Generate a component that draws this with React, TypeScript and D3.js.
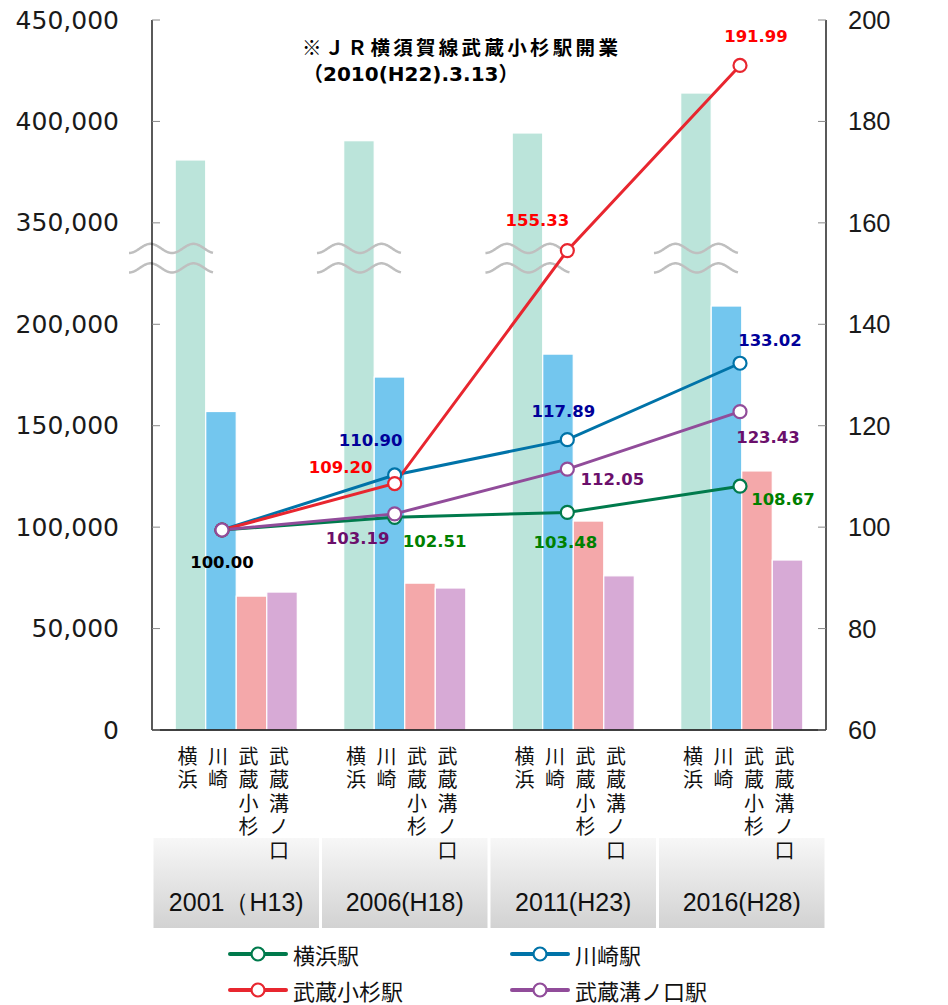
import * as d3 from "d3";
import React, { useEffect, useRef } from "react";

// 年次と駅名
const years = ["2001（H13)", "2006(H18)", "2011(H23)", "2016(H28)"];
const stations = ["横浜", "川崎", "武蔵小杉", "武蔵溝ノ口"];
const legendNames = ["横浜駅", "川崎駅", "武蔵小杉駅", "武蔵溝ノ口駅"];

// 乗車人員（人/日）- 左軸
const yokohamaRiders = [381000, 390500, 394300, 414000];
const kawasakiRiders = [157000, 174000, 185300, 209000];
const kosugiRiders = [66000, 72400, 103000, 127700];
const mizonokuchiRiders = [68000, 70000, 76000, 83800];

// 2001年を100とした指数 - 右軸
const yokohamaIndex = [100.0, 102.51, 103.48, 108.67];
const kawasakiIndex = [100.0, 110.9, 117.89, 133.02];
const kosugiIndex = [100.0, 109.2, 155.33, 191.99];
const mizonokuchiIndex = [100.0, 103.19, 112.05, 123.43];

// 軸の目盛り
const leftTicks = [0, 50000, 100000, 150000, 200000, 350000, 400000, 450000];
const rightTicks = [60, 80, 100, 120, 140, 160, 180, 200];

const barColors = ["#bbe4da", "#73c6ee", "#f4a8aa", "#d7aad6"];
const lineColors = ["#007a4c", "#0073a8", "#e8262f", "#914c9a"];
const labelColors = ["#008000", "#000099", "#ff0000", "#6b0f6b"];

// ラベルの位置調整（点からのずれ）
const labelOffsets = [
  [null, [40, 24], [-2, 30], [43, 13]],
  [null, [-24, -34], [-4, -28], [30, -23]],
  [null, [-54, -16], [-30, -30], [16, -29]],
  [null, [-37, 25], [45, 10], [28, 26]],
];

const App = () => {
  const ref = useRef(null);

  useEffect(() => {
    document.body.style.margin = "0";
    const width = 948;
    const height = 1005;
    const left = 152;
    const right = 826;
    const top = 20;
    const bottom = 730;

    d3.select(ref.current).selectAll("*").remove();
    const svg = d3
      .select(ref.current)
      .append("svg")
      .attr("width", width)
      .attr("height", height)
      .style("display", "block");

    const riders = [yokohamaRiders, kawasakiRiders, kosugiRiders, mizonokuchiRiders];
    const indexes = [yokohamaIndex, kawasakiIndex, kosugiIndex, mizonokuchiIndex];

    // x軸スケール
    const x0 = d3.scaleBand().domain(years).range([left, right]);
    const x1 = d3
      .scaleBand()
      .domain(stations)
      .range([0, x0.bandwidth()])
      .paddingOuter(0.76);
    const xLine = d3.scalePoint().domain(years).range([222, 740]);

    // 左軸（途中省略あり）
    const unit = (bottom - top) / 7;
    const yBreak = bottom - 4.6 * unit;
    const yL = d3
      .scaleLinear()
      .domain([0, 230000, 330000, 450000])
      .range([bottom, yBreak, yBreak, top]);
    const yR = d3.scaleLinear().domain([60, 200]).range([bottom, top]);
    const yLine = d3.scaleLinear().domain([60, 200]).range([732, 25]);

    // カテゴリ背景（グラデーション）
    const grad = svg
      .append("defs")
      .append("linearGradient")
      .attr("id", "band")
      .attr("x1", 0)
      .attr("y1", 0)
      .attr("x2", 0)
      .attr("y2", 1);
    grad.append("stop").attr("offset", "0%").attr("stop-color", "#f7f7f7");
    grad.append("stop").attr("offset", "100%").attr("stop-color", "#d2d2d2");

    svg
      .selectAll(".band")
      .data(years)
      .enter()
      .append("rect")
      .attr("x", (d) => x0(d) + 1.5)
      .attr("y", 838)
      .attr("width", x0.bandwidth() - 3)
      .attr("height", 90)
      .attr("fill", "url(#band)");

    // 棒グラフ
    stations.forEach((s, si) => {
      svg
        .selectAll(".bar-" + si)
        .data(riders[si])
        .enter()
        .append("rect")
        .attr("x", (d, i) => x0(years[i]) + x1(s))
        .attr("y", (d) => yL(d))
        .attr("width", x1.bandwidth())
        .attr("height", (d) => bottom - yL(d))
        .attr("fill", barColors[si])
        .attr("stroke", "#fff")
        .attr("stroke-width", 1.2);
    });

    // 省略記号（波線）
    const wave = (x0w, yc) => {
      const pts = d3.range(0, 85, 1).map((t) => [
        x0w + t,
        yc + 4.6 * Math.cos((2 * Math.PI * t) / 43),
      ]);
      return d3.line()(pts);
    };
    years.forEach((yr, i) => {
      const cx = x0(yr) + x1(stations[0]) + x1.bandwidth() / 2;
      const startX = i === 0 ? left - 23 : cx - 42;
      [yBreak - 15, yBreak + 4.5].forEach((yc) => {
        svg
          .append("path")
          .attr("d", wave(startX, yc))
          .attr("fill", "none")
          .attr("stroke", "#bfbfbf")
          .attr("stroke-width", 2.5);
      });
    });

    // 軸線
    const axisLine = (x1a, y1a, x2a, y2a) =>
      svg
        .append("line")
        .attr("x1", x1a)
        .attr("y1", y1a)
        .attr("x2", x2a)
        .attr("y2", y2a)
        .attr("stroke", "#000")
        .attr("stroke-width", 1.3);
    axisLine(left, top, left, bottom);
    axisLine(right, top, right, bottom);
    axisLine(left, bottom, right, bottom);

    // 左軸の目盛り
    leftTicks.forEach((t) => {
      svg
        .append("line")
        .attr("x1", left)
        .attr("x2", left + 8)
        .attr("y1", yL(t))
        .attr("y2", yL(t))
        .attr("stroke", "#888");
      svg
        .append("text")
        .attr("x", 119)
        .attr("y", yL(t))
        .attr("text-anchor", "end")
        .attr("dominant-baseline", "central")
        .attr("font-family", "DejaVu Sans")
        .attr("font-size", 25)
        .attr("fill", "#1a1a1a")
        .text(d3.format(",")(t));
    });

    // 右軸の目盛り
    rightTicks.forEach((t) => {
      svg
        .append("line")
        .attr("x1", right - 8)
        .attr("x2", right)
        .attr("y1", yR(t))
        .attr("y2", yR(t))
        .attr("stroke", "#888");
      svg
        .append("text")
        .attr("x", 848)
        .attr("y", yR(t))
        .attr("dominant-baseline", "central")
        .attr("font-family", "Liberation Sans, Arial")
        .attr("font-size", 25.5)
        .attr("fill", "#1a1a1a")
        .text(t);
    });

    // カテゴリラベル（縦書き）
    years.forEach((yr) => {
      stations.forEach((s) => {
        const cx = x0(yr) + x1(s) + x1.bandwidth() / 2 - 3;
        svg
          .append("text")
          .attr("x", cx)
          .attr("y", 746)
          .attr("writing-mode", "vertical-rl")
          .style("text-orientation", "upright")
          .attr("letter-spacing", 3.5)
          .attr("font-family", "Noto Sans CJK JP")
          .attr("font-size", 20)
          .attr("fill", "#111")
          .text(s);
      });
      svg
        .append("text")
        .attr("x", x0(yr) + x0.bandwidth() / 2)
        .attr("y", 902)
        .attr("text-anchor", "middle")
        .attr("dominant-baseline", "central")
        .attr("font-family", "Liberation Sans, Arial")
        .attr("font-size", 25)
        .attr("fill", "#111")
        .text(yr);
    });

    // 折れ線
    const line = d3
      .line()
      .x((d, i) => xLine(years[i]))
      .y((d) => yLine(d));

    indexes.forEach((vals, si) => {
      svg
        .append("path")
        .datum(vals)
        .attr("d", line)
        .attr("fill", "none")
        .attr("stroke", lineColors[si])
        .attr("stroke-width", 3);
    });
    indexes.forEach((vals, si) => {
      svg
        .selectAll(".dot-" + si)
        .data(vals)
        .enter()
        .append("circle")
        .attr("cx", (d, i) => xLine(years[i]))
        .attr("cy", (d) => yLine(d))
        .attr("r", 6.5)
        .attr("fill", "#fff")
        .attr("stroke", lineColors[si])
        .attr("stroke-width", 2.2);
    });

    // データラベル
    const labelStyle = (sel) =>
      sel
        .attr("text-anchor", "middle")
        .attr("dominant-baseline", "central")
        .attr("font-family", "DejaVu Sans")
        .attr("font-weight", "bold")
        .attr("font-size", 16.5);

    svg
      .append("text")
      .attr("x", xLine(years[0]))
      .attr("y", yLine(indexes[0][0]) + 32)
      .call(labelStyle)
      .attr("fill", "#000")
      .text(indexes[0][0].toFixed(2));

    indexes.forEach((vals, si) => {
      vals.forEach((v, i) => {
        const off = labelOffsets[si][i];
        if (!off) return;
        svg
          .append("text")
          .attr("x", xLine(years[i]) + off[0])
          .attr("y", yLine(v) + off[1])
          .call(labelStyle)
          .attr("fill", labelColors[si])
          .text(v.toFixed(2));
      });
    });

    // 注記（2行）
    svg
      .append("text")
      .attr("x", 302)
      .attr("y", 46)
      .attr("dominant-baseline", "central")
      .attr("font-family", "Noto Sans CJK JP")
      .attr("font-weight", "bold")
      .attr("font-size", 19.5)
      .attr("letter-spacing", 3.3)
      .attr("fill", "#000")
      .text("※ＪＲ横須賀線武蔵小杉駅開業");
    svg
      .append("text")
      .attr("x", 303)
      .attr("y", 74)
      .attr("dominant-baseline", "central")
      .attr("font-family", "DejaVu Sans, Noto Sans CJK JP")
      .attr("font-weight", "bold")
      .attr("font-size", 20)
      .attr("fill", "#000")
      .text("（2010(H22).3.13）");

    // 凡例
    const legendPos = [
      [230, 954],
      [512, 954],
      [230, 990],
      [512, 990],
    ];
    legendNames.forEach((name, i) => {
      const [lx, ly] = legendPos[i];
      svg
        .append("line")
        .attr("x1", lx)
        .attr("x2", lx + 56)
        .attr("y1", ly)
        .attr("y2", ly)
        .attr("stroke", lineColors[i])
        .attr("stroke-width", 4)
        .attr("stroke-linecap", "round");
      svg
        .append("circle")
        .attr("cx", lx + 28)
        .attr("cy", ly)
        .attr("r", 6.5)
        .attr("fill", "#fff")
        .attr("stroke", lineColors[i])
        .attr("stroke-width", 2.2);
      svg
        .append("text")
        .attr("x", lx + 63)
        .attr("y", ly)
        .attr("dominant-baseline", "central")
        .attr("font-family", "Noto Sans CJK JP")
        .attr("font-size", 22)
        .attr("fill", "#111")
        .text(name);
    });
  }, []);

  return <div ref={ref} />;
};

export default App;
